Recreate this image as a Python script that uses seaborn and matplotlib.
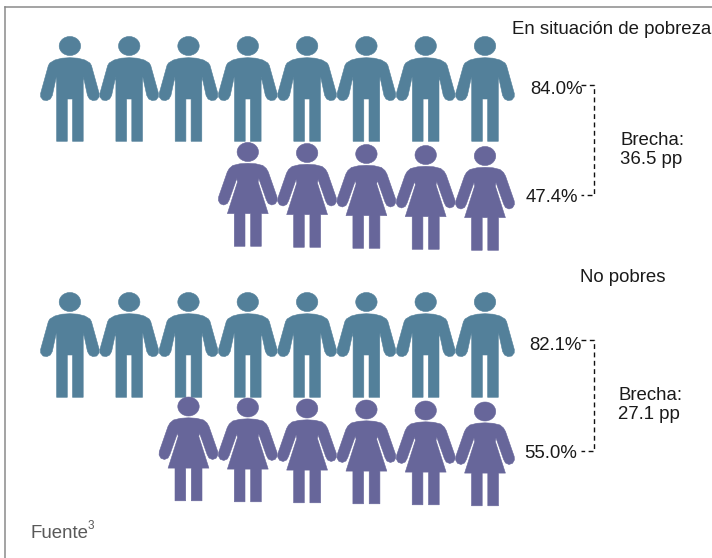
import matplotlib
matplotlib.use("Agg")
import matplotlib.pyplot as plt
from matplotlib.path import Path
from matplotlib.transforms import Affine2D
import pandas as pd
import seaborn as sns

# data
groups = ["En situación de pobreza", "No pobres"]
hombres_pct = ["84.0%", "82.1%"]
mujeres_pct = ["47.4%", "55.0%"]
brechas = ["Brecha:\n36.5 pp", "Brecha:\n27.1 pp"]
hombres_iconos = [8, 8]
mujeres_iconos = [5, 6]

# layout, in pixels of the 712x558 picture
W, H = 712, 558
HEAD_RX, HEAD_RY = 10.7, 9.5
PITCH = 59.3
LAST_X = 485
ROW_Y = {("En situación de pobreza", "hombre"): 46, ("En situación de pobreza", "mujer"): 156,
         ("No pobres", "hombre"): 302, ("No pobres", "mujer"): 411.5}
DRIFT = {"hombre": 0, "mujer": 1.0}
MARKER_R = 100
COLORS = {"hombre": "#53809a", "mujer": "#67669a"}


def mirror(points):
    return [(-x, y) for x, y in reversed(points)]


def icon(side, legs):
    # side: right half of the body going down from the neck, y grows downwards
    verts = [(0, -MARKER_R), (0, -MARKER_R)]
    codes = [Path.MOVETO, Path.CLOSEPOLY]
    head = Path.unit_circle().transformed(Affine2D().scale(HEAD_RX, HEAD_RY))
    verts += list(map(tuple, head.vertices))
    codes += list(head.codes)
    outline = side + legs + mirror(legs) + mirror(side)
    verts += outline + [outline[0]]
    codes += [Path.MOVETO] + [Path.LINETO] * (len(outline) - 1) + [Path.CLOSEPOLY]
    # flip because marker space has y upwards
    return Path([(x, -y) for x, y in verts], codes)


man_side = [(0, 11.7), (8, 12.2), (15, 14), (20, 17), (21.5, 19.5), (29.3, 47.5), (29.2, 51), (26.8, 54),
            (23, 54.6), (19.6, 53), (17.6, 49.5), (13.6, 31), (13.3, 36)]
man_legs = [(13.3, 95.3), (2.6, 95.3), (2.6, 53)]
woman_side = [(0, 11.3), (8, 11.8), (15, 13.5), (18.5, 16.5), (20.5, 20), (29.2, 45), (29.4, 48.5), (27.5, 51.8),
              (24, 53), (20.5, 51.5), (18.6, 48), (11, 26.5), (10.3, 30), (20.4, 61.6)]
woman_legs = [(13.5, 61.6), (13.5, 94.3), (2.8, 94.3), (2.8, 61.6)]
markers = {"hombre": icon(man_side, man_legs), "mujer": icon(woman_side, woman_legs)}

rows = []
for g, nh, nm in zip(groups, hombres_iconos, mujeres_iconos):
    for sexo, n in [("hombre", nh), ("mujer", nm)]:
        for i in range(n):
            rows.append({"x": LAST_X - PITCH * i,
                         "y": ROW_Y[(g, sexo)] - DRIFT[sexo] * i,
                         "sexo": sexo})
df = pd.DataFrame(rows)

sns.set_theme(style="white")
plt.rcParams["font.family"] = ["Liberation Sans", "DejaVu Sans"]

fig = plt.figure(figsize=(W / 100, H / 100), dpi=100)
ax = fig.add_axes([5 / W, 0, 1 - 5 / W, 1 - 7 / H])
ax.set_xlim(5, W)
ax.set_ylim(H, 7)

sns.scatterplot(data=df, x="x", y="y", hue="sexo", style="sexo", palette=COLORS, markers=markers,
                s=(2 * MARKER_R * 0.72) ** 2, linewidth=0.4, edgecolor="face", legend=False, ax=ax, clip_on=False)

ax.set(xlabel="", ylabel="", xticks=[], yticks=[])
sns.despine(ax=ax, top=False, right=True, left=False, bottom=True)
for side in ["top", "left"]:
    ax.spines[side].set_color("#8a8a8a")
    ax.spines[side].set_linewidth(1.1)

FS = 13.4
TXT = "#1a1a1a"
ax.text(512, 29, groups[0], fontsize=FS, color=TXT, va="center", ha="left")
ax.text(580, 278, groups[1], fontsize=FS, color=TXT, va="center", ha="left")

label_pos = [(583, 90, 578, 198, 85, 195, 594, 620, 150),
             (582, 345, 577, 453, 340, 451, 593.5, 618, 405)]
for k in range(2):
    hx, hy, mx, my, top, bot, bx, tx, ty = label_pos[k]
    ax.text(hx, hy, hombres_pct[k], fontsize=FS, color=TXT, va="center", ha="right")
    ax.text(mx, my, mujeres_pct[k], fontsize=FS, color=TXT, va="center", ha="right")
    ax.plot([bx - 13, bx, bx, bx - 13], [top, top, bot, bot], color="#111111", lw=1.0,
            ls=(0, (3.5, 2.5)))
    ax.text(tx, ty, brechas[k], fontsize=FS, color=TXT, va="center", ha="left", linespacing=1.12)

ax.text(30, 533, "Fuente", fontsize=FS, color="#595959", va="center", ha="left")
ax.text(88, 526, "3", fontsize=8.5, color="#595959", va="center", ha="left")

fig.savefig("out.png", dpi=100)
